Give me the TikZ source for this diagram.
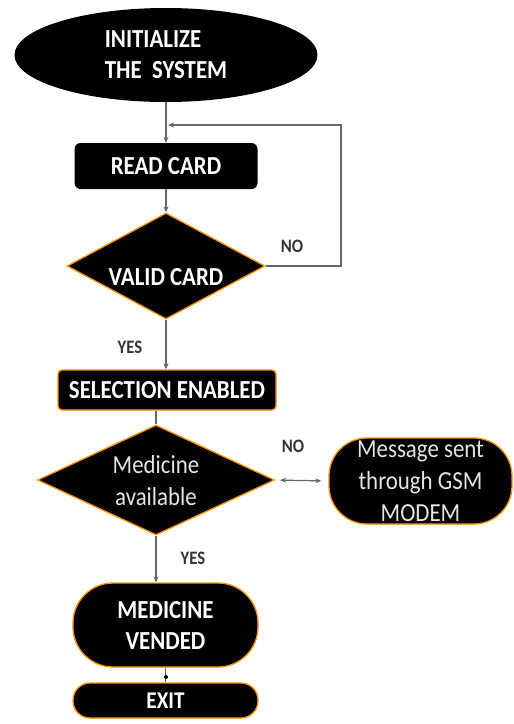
\documentclass[tikz,border=0pt]{standalone}
\usepackage{fontspec}
\setmainfont[FakeStretch=0.88]{Carlito}
\usepackage{xcolor}
\usetikzlibrary{shapes,arrows,positioning,calc,arrows.meta}

\tikzset{
  box/.style={fill=black, text=white, font=\fontsize{26}{31}\selectfont\bfseries, align=center, inner sep=0pt},
  thin/.style={font=\fontsize{26}{32}\selectfont, text=black!10},
  glow/.style={draw=orange!85!yellow, line width=1.3pt},
  dec/.style={diamond, fill=black, inner sep=0pt},
  lbl/.style={font=\fontsize{19}{22}\selectfont\bfseries, text=black!80},
  flow/.style={draw=black!60, line width=1.2pt, -{Stealth[length=6pt,width=5pt]}}
}

\begin{document}
\begin{tikzpicture}[x=1pt,y=-1pt]
    \useasboundingbox (0,0) rectangle (514,724);
    % start
    \node[box, ellipse, minimum width=303pt, minimum height=94pt, align=left] (init) at (166,55) {INITIALIZE\\THE\ \ SYSTEM};
    \node[box, rounded corners=6pt, minimum width=183pt, minimum height=46pt] (read) at (166,166) {READ CARD};
    % card check
    \node[dec, glow, minimum width=198pt, minimum height=106pt] (valid) at (166,266) {};
    \node[box, fill=none] (validtxt) at (166,277) {VALID CARD};
    \node[box, glow, rounded corners=4pt, minimum width=218pt, minimum height=40pt] (sel) at (167,390) {SELECTION ENABLED};
    % medicine check
    \node[dec, glow, minimum width=237pt, minimum height=110pt] (avail) at (156,480) {};
    \node[box, thin, fill=none, align=center] (availtxt) at (156,481) {Medicine\\available};
    \node[box, thin, glow, rounded corners=38pt, minimum width=183pt, minimum height=86pt] (msg) at (420.5,481) {Message sent\\through GSM\\MODEM};
    \node[box, glow, rounded corners=40pt, minimum width=185pt, minimum height=84pt] (vend) at (165.5,625) {MEDICINE\\VENDED};
    \node[box, glow, rounded corners=17pt, minimum width=185pt, minimum height=35pt, font=\fontsize{24}{28}\selectfont\bfseries] (exit) at (165.5,700.5) {EXIT};
    % labels
    \node[lbl] (no1) at (292,246) {NO};
    \node[lbl] (yes1) at (130,347) {YES};
    \node[lbl] (no2) at (293,446) {NO};
    \node[lbl] (yes2) at (193,558) {YES};
    % connectors
    \coordinate (loop) at (341,125);
    \draw[flow] (init.south) -- (read.north);
    \draw[flow] (valid.east) -- (valid.east -| loop) -- (loop) -- ([xshift=2pt]read.north |- loop);
    \draw[flow] (read.south) -- (valid.north);
    \draw[flow] (valid.south) -- (valid.south |- sel.north);
    \draw[draw=black!60, line width=1.2pt] (avail.north |- sel.south) -- (avail.north);
    \draw[flow, {Stealth[length=6pt,width=5pt]}-{Stealth[length=6pt,width=5pt]}, shorten <=5pt, shorten >=7pt] (avail.east) -- (msg.west);
    \draw[flow] (avail.south) -- (avail.south |- vend.north);
    \coordinate (dot) at (166,677);
    \draw[draw=black!60, line width=1.2pt] (vend.south) -- (exit.north);
    \fill[black] (dot) circle (2pt);
\end{tikzpicture}
\end{document}
